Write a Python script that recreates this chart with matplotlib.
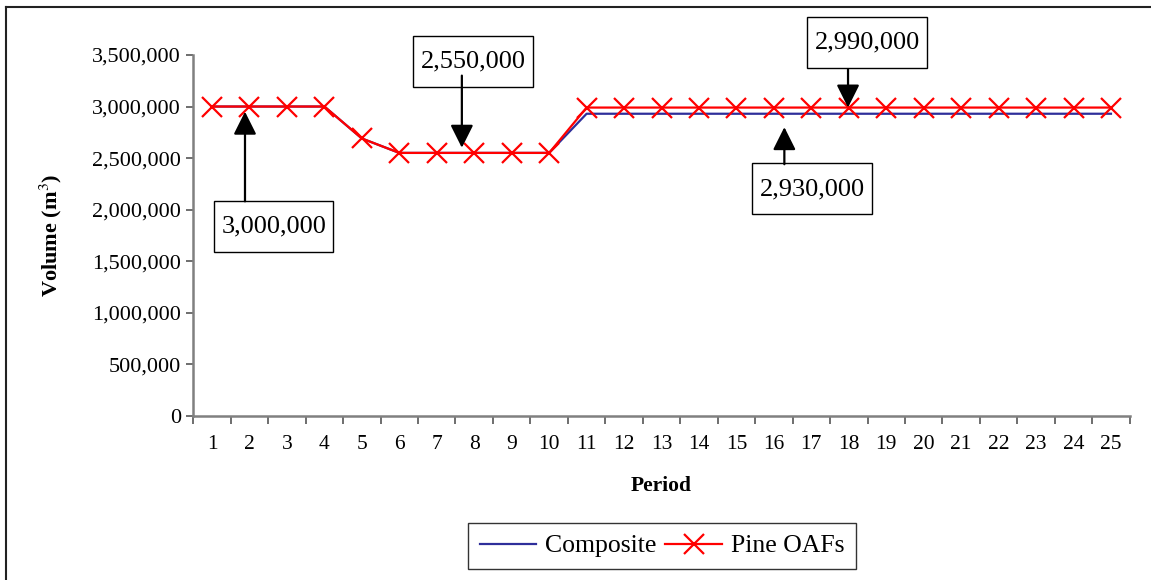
import numpy as np
import matplotlib.pyplot as plt
from matplotlib.path import Path
from matplotlib.ticker import FuncFormatter, FixedLocator

plt.rcParams['font.family'] = ['Liberation Serif', 'DejaVu Serif']

periods = np.arange(1, 26)
composite = [3000000] * 4 + [2690000] + [2550000] * 5 + [2930000] * 15
pine_oafs = [3000000] * 4 + [2690000] + [2550000] * 5 + [2990000] * 15

# callout boxes: text, box centre (x, y), arrow start, arrow tip
callouts = [
    ("3,000,000", (2.65, 1.84e6), (1.88, 2.08e6), (1.88, 2.95e6)),
    ("2,550,000", (7.97, 3.44e6), (7.67, 3.30e6), (7.67, 2.60e6)),
    ("2,930,000", (17.02, 2.20e6), (16.28, 2.44e6), (16.28, 2.80e6)),
    ("2,990,000", (18.49, 3.62e6), (17.98, 3.36e6), (17.98, 2.99e6)),
]


def tall_box(x0, y0, width, height, mutation_size):
    # rectangle with more padding above/below the text than at the sides
    px = 0.27 * mutation_size
    py = 0.55 * mutation_size
    x0, y0 = x0 - px, y0 - py
    x1, y1 = x0 + width + 2 * px, y0 + height + 2 * py
    return Path([(x0, y0), (x1, y0), (x1, y1), (x0, y1), (x0, y0)],
                closed=True)


fig = plt.figure(figsize=(11.51, 5.80), dpi=100)
ax = fig.add_axes([193.3 / 1151, 1 - 415.7 / 580, (1129.7 - 193.3) / 1151, 360.7 / 580])

ax.plot(periods, composite, color='#2E2E9A', lw=1.6, label='Composite', zorder=2)
ax.plot(periods, pine_oafs, color='#FF0000', lw=1.6, marker='x', markersize=14,
        markeredgewidth=1.6, label='Pine OAFs', zorder=3)

ax.set_xlim(0.5, 25.5)
ax.set_ylim(0, 3500000)
ax.set_yticks(np.arange(0, 3500001, 500000))
ax.yaxis.set_major_formatter(FuncFormatter(lambda v, p: f"{int(v):,}"))

# category axis: labels centred, tick marks between categories
ax.set_xticks(periods)
ax.xaxis.set_minor_locator(FixedLocator(np.arange(0.5, 26, 1)))
ax.tick_params(axis='x', which='major', length=0, labelsize=15.5, pad=14)
ax.tick_params(axis='x', which='minor', length=6, width=1.2, color='#555555')
ax.tick_params(axis='y', which='major', length=5, width=1.2, color='#555555',
               labelsize=16, pad=4)

for side in ['top', 'right']:
    ax.spines[side].set_visible(False)
for side in ['left', 'bottom']:
    ax.spines[side].set_color('#808080')
    ax.spines[side].set_linewidth(1.8)

ax.set_xlabel('Period', fontsize=15.5, fontweight='bold', labelpad=16)
ax.set_ylabel('Volume (m$^3$)', fontsize=16, fontweight='bold', labelpad=20)
ax.yaxis.label.set_math_fontfamily('stix')

for label, (tx, ty), start, tip in callouts:
    ax.text(tx, ty, label, ha='center', va='center', fontsize=19, zorder=5,
            bbox=dict(boxstyle=tall_box, fc='white', ec='black', lw=1.0))
    ax.annotate('', xy=tip, xytext=start, zorder=6, annotation_clip=False,
                arrowprops=dict(arrowstyle='-|>,head_length=0.7,head_width=0.35',
                                mutation_scale=20, color='black', lw=1.6,
                                shrinkA=0, shrinkB=0))

leg = fig.legend(loc='center', bbox_to_anchor=(662 / 1151, 1 - 546 / 580), ncol=2,
                 fontsize=18.5, frameon=True, fancybox=False, handlelength=2.2,
                 handletextpad=0.35, columnspacing=0.35, borderpad=0.45,
                 borderaxespad=0.2)
leg.get_frame().set_edgecolor('black')
leg.get_frame().set_linewidth(1.0)

# chart area border (top and left edges visible)
fig.add_artist(plt.Line2D([6 / 1151, 6 / 1151], [0, 1 - 7 / 580],
                          transform=fig.transFigure, color='#222222', lw=1.5))
fig.add_artist(plt.Line2D([6 / 1151, 1], [1 - 7 / 580, 1 - 7 / 580],
                          transform=fig.transFigure, color='#222222', lw=1.5))

fig.savefig('out.png', dpi=100)
